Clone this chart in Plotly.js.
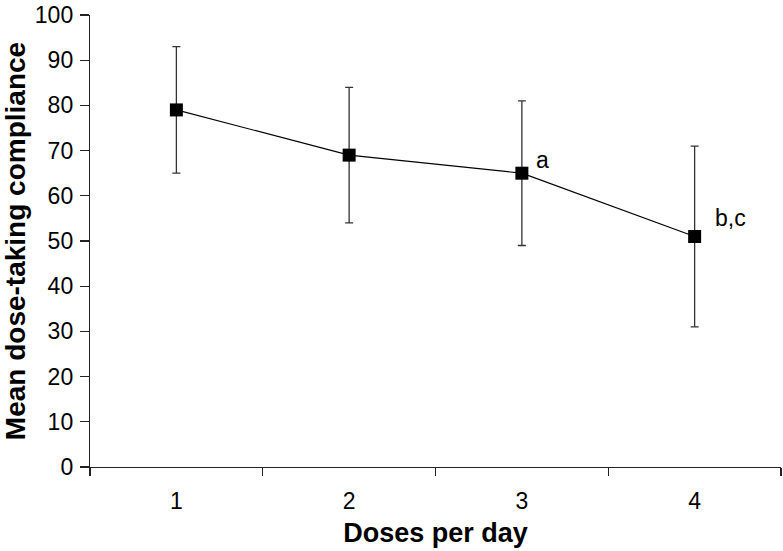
<!DOCTYPE html>
<html>
<head>
<meta charset="utf-8">
<script src="https://cdn.plot.ly/plotly-3.0.1.min.js"></script>
<style>html,body{margin:0;padding:0;background:#fff;}#chart{width:783px;height:551px;}</style>
</head>
<body>
<div id="chart"></div>
<script>
var doses = ['1', '2', '3', '4'];
var meanCompliance = [79, 69, 65, 51];
var errorPlus = [14, 15, 16, 20];
var errorMinus = [14, 15, 16, 20];
var noteLabels = ['', '', 'a', 'b,c'];
var noteY = [null, null, 68, 55];
var noteShift = [0, 0, 21, 36];

var trace = {
  x: doses,
  y: meanCompliance,
  type: 'scatter',
  mode: 'lines+markers',
  line: {color: '#000', width: 1.2},
  marker: {symbol: 'square', size: 13, color: '#000'},
  error_y: {type: 'data', symmetric: false, array: errorPlus, arrayminus: errorMinus,
            color: '#333', thickness: 1.3, width: 4},
  hoverinfo: 'skip'
};

var annotations = [];
for (var i = 0; i < doses.length; i++) {
  if (noteLabels[i]) {
    annotations.push({x: i, y: noteY[i], xref: 'x', yref: 'y', text: noteLabels[i],
      showarrow: false, xshift: noteShift[i], font: {size: 23, color: '#000', family: 'Liberation Sans, Arial, sans-serif'}});
  }
}

var layout = {
  width: 783, height: 551,
  margin: {l: 90, r: 2, t: 15, b: 84},
  paper_bgcolor: '#fff', plot_bgcolor: '#fff',
  showlegend: false,
  font: {family: 'Liberation Sans, Arial, sans-serif', color: '#000'},
  xaxis: {
    type: 'category', tickson: 'boundaries', range: [-0.5, 3.5],
    showline: true, linecolor: '#222', linewidth: 1.2,
    ticks: 'outside', ticklen: 8, tickcolor: '#222', tickwidth: 1.2,
    showgrid: false, zeroline: false,
    tickfont: {size: 23, color: '#000'}, ticklabelstandoff: 13,
    title: {text: 'Doses per day', font: {size: 27, color: '#000', family: 'Liberation Sans, Arial, sans-serif', weight: 'bold'}, standoff: 10}
  },
  yaxis: {
    range: [0, 100], dtick: 10, tick0: 0,
    showline: true, linecolor: '#222', linewidth: 1.2,
    ticks: 'outside', ticklen: 9, tickcolor: '#222', tickwidth: 1.2,
    showgrid: false, zeroline: false,
    tickfont: {size: 23, color: '#000'}, ticklabelstandoff: 2,
    title: {text: 'Mean dose-taking compliance', font: {size: 28, color: '#000', family: 'Liberation Sans, Arial, sans-serif', weight: 'bold'}, standoff: 6}
  },
  annotations: annotations
};

Plotly.newPlot('chart', [trace], layout, {displayModeBar: false, staticPlot: true});
</script>
</body>
</html>
